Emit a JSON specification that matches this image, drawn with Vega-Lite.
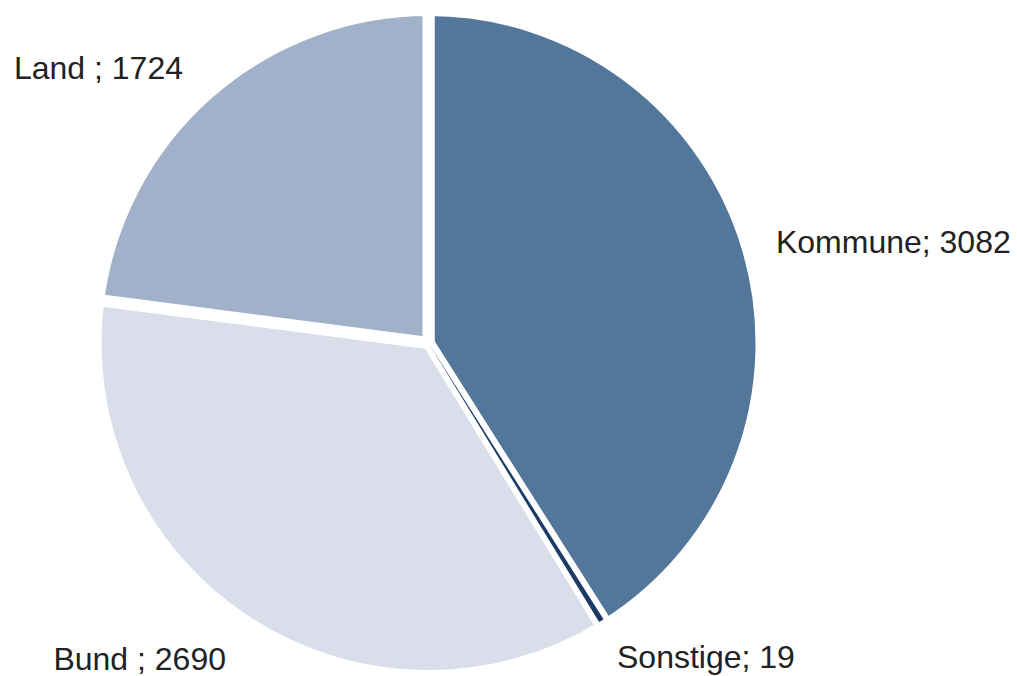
{
  "$schema": "https://vega.github.io/schema/vega-lite/v6.json",
  "width": 857,
  "height": 666,
  "autosize": {"type": "none"},
  "padding": {"left": 0, "top": 10, "right": 160, "bottom": 0},
  "background": "white",
  "view": {"stroke": null},
  "data": {
    "values": [
      {"cat": "Kommune", "value": 3082, "rank": 1, "label": "Kommune; 3082"},
      {"cat": "Sonstige", "value": 19, "rank": 2, "label": "Sonstige; 19"},
      {"cat": "Bund", "value": 2690, "rank": 3, "label": "Bund ; 2690"},
      {"cat": "Land", "value": 1724, "rank": 4, "label": "Land ; 1724"}
    ]
  },
  "encoding": {
    "theta": {"field": "value", "type": "quantitative", "stack": true},
    "order": {"field": "rank", "type": "quantitative"},
    "color": {
      "field": "cat",
      "type": "nominal",
      "scale": {
        "domain": ["Kommune", "Sonstige", "Bund", "Land"],
        "range": ["#53769b", "#1b3a66", "#d9deea", "#a0b1c9"]
      },
      "legend": null
    }
  },
  "layer": [
    {"mark": {"type": "arc", "outerRadius": 333, "stroke": "white", "strokeWidth": 12}},
    {
      "mark": {"type": "arc", "outerRadius": 327},
      "encoding": {
        "opacity": {"condition": {"test": "datum.cat === 'Sonstige'", "value": 1}, "value": 0}
      }
    },
    {
      "mark": {"type": "text", "radius": 368, "dx": -6, "dy": 3, "align": "left", "baseline": "middle", "fontSize": 32, "font": "Liberation Sans"},
      "encoding": {
        "text": {"field": "label"},
        "color": {"value": "#222222"},
        "opacity": {"condition": {"test": "datum.cat === 'Kommune' || datum.cat === 'Sonstige'", "value": 1}, "value": 0}
      }
    },
    {
      "mark": {"type": "text", "radius": 372, "dy": 5, "align": "right", "baseline": "middle", "fontSize": 32, "font": "Liberation Sans"},
      "encoding": {
        "text": {"field": "label"},
        "color": {"value": "#222222"},
        "opacity": {"condition": {"test": "datum.cat === 'Bund' || datum.cat === 'Land'", "value": 1}, "value": 0}
      }
    }
  ]
}
